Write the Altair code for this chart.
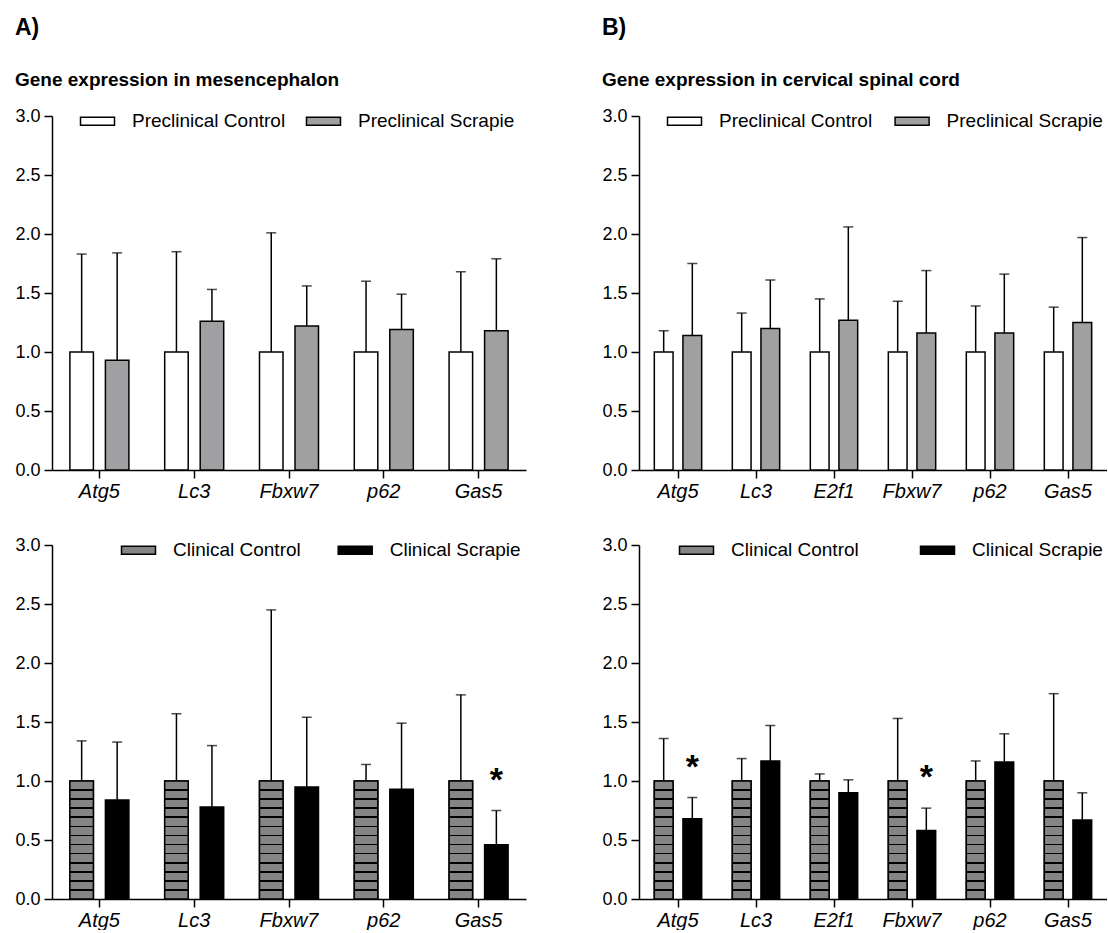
import altair as alt
import pandas as pd

# ---------------- data ----------------
genes_A = ["Atg5", "Lc3", "Fbxw7", "p62", "Gas5"]
genes_B = ["Atg5", "Lc3", "E2f1", "Fbxw7", "p62", "Gas5"]

pre_groups = ["Preclinical Control", "Preclinical Scrapie"]
cli_groups = ["Clinical Control", "Clinical Scrapie"]

# mesencephalon, preclinical
A_pre_ctrl = [1.0, 1.0, 1.0, 1.0, 1.0]
A_pre_ctrl_up = [1.83, 1.85, 2.01, 1.60, 1.68]
A_pre_scr = [0.93, 1.26, 1.22, 1.19, 1.18]
A_pre_scr_up = [1.84, 1.53, 1.56, 1.49, 1.79]
# mesencephalon, clinical
A_cli_ctrl = [1.0, 1.0, 1.0, 1.0, 1.0]
A_cli_ctrl_up = [1.34, 1.57, 2.45, 1.14, 1.73]
A_cli_scr = [0.84, 0.78, 0.95, 0.93, 0.46]
A_cli_scr_up = [1.33, 1.30, 1.54, 1.49, 0.75]
# cervical spinal cord, preclinical
B_pre_ctrl = [1.0, 1.0, 1.0, 1.0, 1.0, 1.0]
B_pre_ctrl_up = [1.18, 1.33, 1.45, 1.43, 1.39, 1.38]
B_pre_scr = [1.14, 1.20, 1.27, 1.16, 1.16, 1.25]
B_pre_scr_up = [1.75, 1.61, 2.06, 1.69, 1.66, 1.97]
# cervical spinal cord, clinical
B_cli_ctrl = [1.0, 1.0, 1.0, 1.0, 1.0, 1.0]
B_cli_ctrl_up = [1.36, 1.19, 1.06, 1.53, 1.17, 1.74]
B_cli_scr = [0.68, 1.17, 0.90, 0.58, 1.16, 0.67]
B_cli_scr_up = [0.86, 1.47, 1.01, 0.77, 1.40, 0.90]

# significance marks (gene, height of the asterisk)
A_cli_stars_genes = ["Gas5"]
A_cli_stars_y = [1.05]
B_cli_stars_genes = ["Atg5", "Fbxw7"]
B_cli_stars_y = [1.16, 1.08]

FONT = "Liberation Sans"
GRAY_LIGHT = "#a0a0a3"
GRAY_DARK = "#858585"

LEGEND_PATH = "M-4.25,-1L4.25,-1L4.25,1L-4.25,1Z"


def stripe_gradient(n_bands=13, color=GRAY_DARK, half=0.007):
    stops = [{"offset": 0, "color": color}]
    for i in range(1, n_bands):
        f = i / n_bands
        stops += [
            {"offset": f - half, "color": color},
            {"offset": f - half, "color": "black"},
            {"offset": f + half, "color": "black"},
            {"offset": f + half, "color": color},
        ]
    stops.append({"offset": 1, "color": color})
    return {"gradient": "linear", "x1": 0, "y1": 0, "x2": 0, "y2": 1, "stops": stops}


def panel(genes, groups, ctrl, ctrl_up, scr, scr_up, colors, striped,
          star_genes, star_y, width, off_pad_inner, off_pad_outer,
          leg_x, leg_col_pad):
    rows = []
    for g, m, u in zip(genes, ctrl, ctrl_up):
        rows.append({"gene": g, "group": groups[0], "mean": m, "upper": u})
    for g, m, u in zip(genes, scr, scr_up):
        rows.append({"gene": g, "group": groups[1], "mean": m, "upper": u})
    df = pd.DataFrame(rows)

    x = alt.X("gene:N", sort=genes, title=None,
              scale=alt.Scale(paddingInner=0, paddingOuter=0),
              axis=alt.Axis(labelAngle=0, labelFontStyle="italic", labelFontSize=20,
                            labelPadding=3, tickSize=8))
    xo = alt.XOffset("group:N", sort=groups,
                     scale=alt.Scale(domain=groups, paddingInner=off_pad_inner,
                                     paddingOuter=off_pad_outer))
    y = alt.Y("mean:Q", title=None,
              scale=alt.Scale(domain=[0, 3], nice=False),
              axis=alt.Axis(tickCount=6, format=".1f", labelFontSize=18,
                            labelPadding=4, tickSize=8))

    base = alt.Chart(df)
    err = base.mark_rule(color="black", strokeWidth=1.5).encode(
        x=x, xOffset=xo, y=y, y2="upper:Q")
    cap = base.mark_tick(color="black", thickness=1.5, size=10).encode(
        x=x, xOffset=xo, y=alt.Y("upper:Q"))
    bars = base.mark_bar(stroke="black", strokeWidth=1.5).encode(
        x=x, xOffset=xo, y=y,
        fill=alt.Fill("group:N", sort=groups,
                      scale=alt.Scale(domain=groups, range=colors),
                      legend=alt.Legend(orient="none", direction="horizontal",
                                        legendX=leg_x, legendY=-4.5, title=None,
                                        symbolType=LEGEND_PATH, symbolSize=64,
                                        symbolStrokeColor="black",
                                        symbolStrokeWidth=1.5,
                                        labelFontSize=19, labelFont=FONT,
                                        labelColor="black",
                                        labelOffset=25,
                                        columnPadding=leg_col_pad,
                                        labelLimit=400,
                                        padding=0)))
    layers = [err, cap, bars]
    if striped:
        stripes = base.transform_filter(alt.datum.group == groups[0]).mark_bar(
            fill=stripe_gradient(), stroke="black", strokeWidth=1.5).encode(
            x=x, xOffset=xo, y=y)
        layers.append(stripes)
    if star_genes:
        sdf = pd.DataFrame({"gene": star_genes, "group": [groups[1]] * len(star_genes),
                            "ypos": star_y})
        stars = alt.Chart(sdf).mark_text(text="*", fontSize=34, fontWeight="bold",
                                         baseline="middle", align="center",
                                         dy=6, color="black").encode(
            x=x, xOffset=xo, y=alt.Y("ypos:Q"))
        layers.append(stars)
    return alt.layer(*layers).properties(width=width, height=354)


def indep(c):
    return c.resolve_scale(fill="independent", xOffset="independent",
                           x="independent", y="independent").resolve_legend(
        fill="independent")


A_top = panel(genes_A, pre_groups, A_pre_ctrl, A_pre_ctrl_up, A_pre_scr, A_pre_scr_up,
              ["white", GRAY_LIGHT], False, [], [], 474, 0.338, 0.504, 36, 17)
A_bot = panel(genes_A, cli_groups, A_cli_ctrl, A_cli_ctrl_up, A_cli_scr, A_cli_scr_up,
              [GRAY_DARK, "black"], True, A_cli_stars_genes, A_cli_stars_y,
              474, 0.338, 0.504, 77, 33.7)
B_top = panel(genes_B, pre_groups, B_pre_ctrl, B_pre_ctrl_up, B_pre_scr, B_pre_scr_up,
              ["white", GRAY_LIGHT], False, [], [], 468, 0.345, 0.535, 36, 18.6)
B_bot = panel(genes_B, cli_groups, B_cli_ctrl, B_cli_ctrl_up, B_cli_scr, B_cli_scr_up,
              [GRAY_DARK, "black"], True, B_cli_stars_genes, B_cli_stars_y,
              468, 0.345, 0.535, 48, 58)

colA = indep(alt.vconcat(A_top, A_bot, spacing=35)).properties(
    title=alt.TitleParams(text="A)", subtitle="Gene expression in mesencephalon",
                          anchor="start"))
colB = indep(alt.vconcat(B_top, B_bot, spacing=35)).properties(
    title=alt.TitleParams(text="B)", subtitle="Gene expression in cervical spinal cord",
                          anchor="start"))

chart = indep(alt.hconcat(colA, colB, spacing=75)).properties(
    padding={"left": 14, "top": 17, "right": 0, "bottom": 0},
    background="white",
).configure(font=FONT).configure_view(stroke=None).configure_axis(
    domainColor="black", domainWidth=1.5, tickColor="black", tickWidth=1.5,
    labelColor="black", labelFont=FONT, grid=False,
).configure_title(
    font=FONT, fontSize=23, fontWeight="bold", color="black",
    subtitleFont=FONT, subtitleFontSize=19, subtitleFontWeight="bold",
    subtitleColor="black", subtitlePadding=31, offset=17,
)

chart.save("out.html", embed_options={"renderer": "svg", "actions": False})
